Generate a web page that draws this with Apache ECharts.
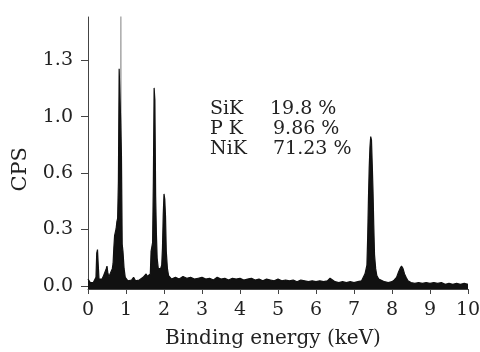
<!DOCTYPE html>
<html>
<head>
<meta charset="utf-8">
<script src="https://cdn.jsdelivr.net/npm/echarts@6/dist/echarts.min.js"></script>
<style>
  html, body { margin: 0; padding: 0; background: #fff; }
  #chart { width: 480px; height: 352px; }
</style>
</head>
<body>
<div id="chart"></div>
<script>
// EDS spectrum, energy in keV, counts in CPS (axis units)
const energy = [
  0.00, 0.03, 0.06, 0.10, 0.14, 0.18, 0.21, 0.23, 0.25, 0.27, 0.29, 0.33, 0.37, 0.41, 0.45, 0.48,
  0.50, 0.52, 0.55, 0.58, 0.61, 0.64, 0.66, 0.68, 0.70, 0.72, 0.74, 0.76, 0.78, 0.80, 0.82, 0.84,
  0.86, 0.88, 0.90, 0.92, 0.95, 0.98, 1.01, 1.05, 1.10, 1.15, 1.20, 1.25, 1.30, 1.35, 1.40, 1.45,
  1.50, 1.53, 1.56, 1.60, 1.64, 1.66, 1.68, 1.70, 1.72, 1.74, 1.76, 1.78, 1.80, 1.82, 1.85, 1.88,
  1.91, 1.94, 1.96, 1.98, 2.00, 2.02, 2.04, 2.06, 2.09, 2.12, 2.16, 2.20,
  2.3, 2.4, 2.5, 2.6, 2.7, 2.8, 2.9, 3.0, 3.1, 3.2, 3.3, 3.4, 3.5, 3.6, 3.7, 3.8, 3.9, 4.0,
  4.1, 4.2, 4.3, 4.4, 4.5, 4.6, 4.7, 4.8, 4.9, 5.0, 5.1, 5.2, 5.3, 5.4, 5.5, 5.6, 5.7, 5.8,
  5.9, 6.0, 6.1, 6.2, 6.3, 6.37, 6.42, 6.5, 6.6, 6.7, 6.8, 6.9, 7.0, 7.1, 7.2,
  7.25, 7.29, 7.32, 7.34, 7.36, 7.38, 7.40, 7.42, 7.44, 7.46, 7.48, 7.50, 7.52, 7.54, 7.57, 7.60,
  7.65, 7.7, 7.8, 7.9, 8.0, 8.06, 8.12, 8.17, 8.21, 8.25, 8.29, 8.33, 8.37, 8.42, 8.5, 8.6,
  8.7, 8.8, 8.9, 9.0, 9.1, 9.2, 9.3, 9.4, 9.5, 9.6, 9.7, 9.8, 9.9, 10.0
];
const cps = [
  0.04, 0.035, 0.02, 0.015, 0.02, 0.03, 0.05, 0.19, 0.21, 0.12, 0.04, 0.05, 0.04, 0.06, 0.05, 0.10,
  0.115, 0.08, 0.05, 0.07, 0.08, 0.10, 0.13, 0.22, 0.29, 0.31, 0.33, 0.37, 0.39, 0.60, 1.25, 1.26,
  0.95, 0.75, 0.24, 0.20, 0.10, 0.05, 0.06, 0.03, 0.04, 0.035, 0.05, 0.03, 0.04, 0.035, 0.045, 0.05,
  0.06, 0.07, 0.055, 0.05, 0.07, 0.20, 0.21, 0.25, 0.60, 1.14, 1.07, 0.52, 0.30, 0.16, 0.10, 0.09,
  0.10, 0.12, 0.22, 0.41, 0.53, 0.50, 0.40, 0.20, 0.10, 0.06, 0.05, 0.04,
  0.05, 0.04, 0.055, 0.045, 0.05, 0.04, 0.045, 0.05, 0.04, 0.045, 0.035, 0.05, 0.04, 0.045, 0.035, 0.045, 0.04, 0.045,
  0.035, 0.04, 0.045, 0.035, 0.04, 0.03, 0.04, 0.035, 0.03, 0.04, 0.03, 0.035, 0.03, 0.035, 0.025, 0.035, 0.03, 0.025,
  0.03, 0.025, 0.03, 0.025, 0.03, 0.045, 0.04, 0.025, 0.02, 0.025, 0.02, 0.025, 0.02, 0.025, 0.03,
  0.04, 0.07, 0.10, 0.12, 0.28, 0.50, 0.68, 0.80, 0.86, 0.84, 0.70, 0.55, 0.35, 0.18, 0.10, 0.06,
  0.04, 0.03, 0.025, 0.02, 0.025, 0.035, 0.05, 0.08, 0.10, 0.115, 0.10, 0.07, 0.05, 0.03, 0.02, 0.015,
  0.02, 0.015, 0.02, 0.015, 0.02, 0.015, 0.02, 0.01, 0.015, 0.01, 0.015, 0.01, 0.015, 0.01
];

// saturated (off-scale) line drawn in grey over the main peak
const satEnergy = [0.855, 0.865, 0.875];
const satCps = [0, 1.6, 0];

// y ticks are evenly spaced in the figure even though labels are not
const yTickPos = [0, 0.325, 0.65, 0.975, 1.3];
const yTickLabels = ['0.0', '0.3', '0.6', '1.0', '1.3'];

const elements = ['SiK', 'P K', 'NiK'];
const percents = ['19.8 %', '9.86 %', '71.23 %'];

const FONT = 'DejaVu Serif';
const TXT = '#222';

const chart = echarts.init(document.getElementById('chart'));

const graphics = [{
  type: 'text',
  left: 10, top: 147,
  rotation: Math.PI / 2,
  style: { text: 'CPS', font: '21px "DejaVu Serif"', fill: TXT },
  originX: 0, originY: 0
}];
elements.forEach((el, i) => {
  graphics.push({
    type: 'text', x: 210, y: 100 + i * 20,
    style: { text: el, font: '19px "DejaVu Serif"', fill: TXT }
  });
  graphics.push({
    type: 'text', x: i === 0 ? 270 : 273, y: 100 + i * 20,
    style: { text: percents[i], font: '19px "DejaVu Serif"', fill: TXT }
  });
});

chart.setOption({
  animation: false,
  grid: { left: 88, right: 12, top: 17, bottom: 63, containLabel: false, outerBoundsMode: 'none' },
  xAxis: {
    type: 'value',
    min: 0, max: 10, interval: 1,
    name: 'Binding energy (keV)',
    nameLocation: 'middle',
    nameGap: 40,
    nameTextStyle: { fontFamily: FONT, fontSize: 20, color: TXT, padding: [0, 10, 0, 0] },
    axisLine: { onZero: false, lineStyle: { color: '#444', width: 1 } },
    axisTick: { show: true, inside: false, length: 5, lineStyle: { color: '#444' } },
    axisLabel: { fontFamily: FONT, fontSize: 19, color: TXT, margin: 12 },
    splitLine: { show: false }
  },
  yAxis: {
    type: 'value',
    min: -0.017, max: 1.548,
    axisLine: { show: true, lineStyle: { color: '#444', width: 1 } },
    axisTick: { show: true, inside: false, length: 7, customValues: yTickPos, lineStyle: { color: '#444' } },
    axisLabel: {
      fontFamily: FONT, fontSize: 19, color: TXT, margin: 15,
      customValues: yTickPos,
      formatter: function (v) {
        let best = 0;
        yTickPos.forEach((p, i) => { if (Math.abs(p - v) < Math.abs(yTickPos[best] - v)) best = i; });
        return yTickLabels[best];
      }
    },
    splitLine: { show: false }
  },
  graphic: graphics,
  series: [
    {
      type: 'line',
      data: satEnergy.map((e, i) => [e, satCps[i]]),
      symbol: 'none',
      lineStyle: { color: '#999', width: 1.2 },
      z: 1
    },
    {
      type: 'line',
      data: energy.map((e, i) => [e, cps[i]]),
      symbol: 'none',
      sampling: null,
      lineStyle: { color: '#111', width: 1.2 },
      areaStyle: { color: '#111', opacity: 1, origin: 'start' },
      z: 2
    }
  ]
});
</script>
</body>
</html>
